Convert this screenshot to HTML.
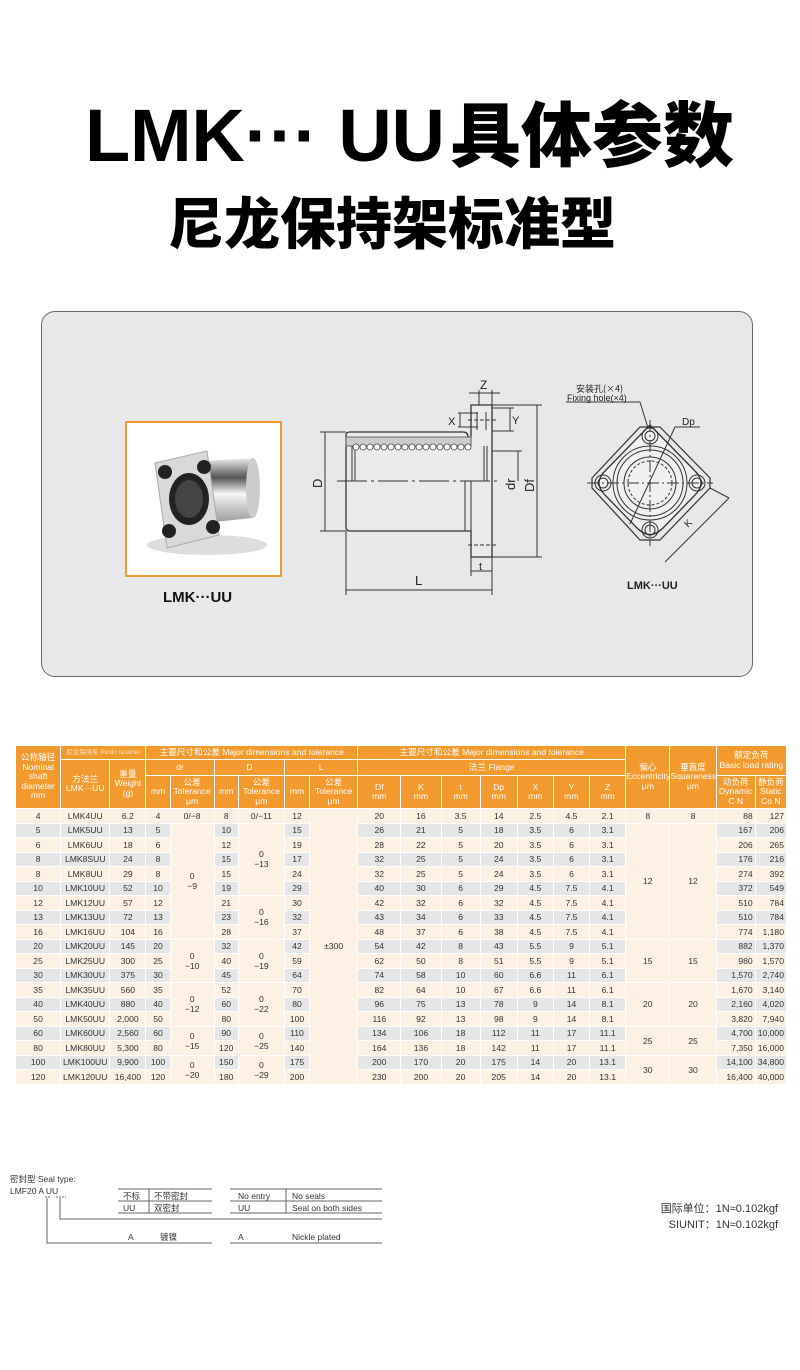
<!DOCTYPE html>
<html><head><meta charset="utf-8">
<style>
*{margin:0;padding:0;box-sizing:border-box}
body{width:800px;height:1370px;background:#fff;position:relative;overflow:hidden;font-family:"Liberation Sans","Noto Sans CJK SC",sans-serif;color:#222}
.abs{position:absolute;white-space:nowrap}
#t1c{left:450px;top:88px;font-size:71px;font-weight:900;color:#000;line-height:86px;font-family:"Noto Sans CJK SC",sans-serif}
#t2{left:168px;top:186px;font-size:56px;font-weight:900;color:#000;line-height:70px;font-family:"Noto Sans CJK SC",sans-serif}
#box{left:41px;top:311px;width:712px;height:366px;border:1.5px solid #666;border-radius:14px;background:#e7e8ea}
#photo{left:125px;top:421px;width:157px;height:156px;border:2px solid #f39a2e;background:#fff}
table{position:absolute;left:15px;top:745px;border-collapse:collapse;table-layout:fixed;width:772px;font-size:8.6px;color:#333}
td{border:1px solid #fff;text-align:center;vertical-align:middle;padding:0;line-height:10px;overflow:hidden;white-space:nowrap}
thead td{background:#f39a2e;color:#fff;line-height:9.5px}
tbody tr{height:14.5px}
tbody td{background:#fdf1e3}
tbody tr.g td{background:#e5e6e8}
tbody tr td.m{background:#fdf1e3}
td.r{text-align:right;padding-right:2px}
.sm{font-size:6.5px;color:#fde0bd}
</style></head><body>
<svg class="abs" style="left:0;top:80px" width="460" height="100" viewBox="0 80 460 100"><text x="85" y="161" font-family="Liberation Sans, sans-serif" font-weight="bold" font-size="74" textLength="360" lengthAdjust="spacing" fill="#000">LMK··· UU</text></svg>
<div class="abs" id="t1c">具体参数</div>
<div class="abs" id="t2">尼龙保持架标准型</div>
<div class="abs" id="box"></div>
<div class="abs" id="photo">
<svg width="153" height="152" viewBox="0 0 153 152">
<defs><linearGradient id="cy" x1="0" y1="0" x2="0" y2="1"><stop offset="0" stop-color="#eee"/><stop offset=".3" stop-color="#555"/><stop offset=".55" stop-color="#f5f5f5"/><stop offset="1" stop-color="#999"/></linearGradient></defs>
<ellipse cx="80" cy="122" rx="60" ry="10" fill="#ddd"/>
<path d="M78 38 L125 35 Q135 60 125 95 L78 100 Z" fill="url(#cy)"/>
<ellipse cx="126" cy="65" rx="7" ry="30" fill="#ccc"/>
<path d="M28 40 L80 28 L92 112 L40 125 Z" fill="#d9d9d9" stroke="#aaa"/>
<ellipse cx="62" cy="76" rx="20" ry="26" fill="#222"/>
<ellipse cx="62" cy="76" rx="14" ry="19" fill="#444"/>
<circle cx="38" cy="49" r="7" fill="#222"/><circle cx="77" cy="44" r="7" fill="#222"/>
<circle cx="42" cy="108" r="7" fill="#222"/><circle cx="86" cy="104" r="7" fill="#222"/>
</svg></div>
<div class="abs" style="left:163px;top:589px;font-size:15px;font-weight:bold;color:#111">LMK···UU</div>

<svg class="abs" style="left:0;top:0" width="800" height="700" viewBox="0 0 800 700" font-family="Liberation Sans, sans-serif">
<g stroke="#333" stroke-width="1" fill="none">
<path d="M346 435 Q346 432 350 432 L463 432 Q468 432 468 437 L471 437 L471 405 L492 405 L492 557 L471 557 L471 531 L350 531 Q346 531 346 527 Z" fill="#e9eaec" stroke-width="1.3"/>
<rect x="346" y="437" width="125" height="9" fill="#ccc" stroke="#666"/>
<line x1="352" y1="446" x2="352" y2="481"/>
<line x1="355" y1="446" x2="355" y2="481"/>
<line x1="484" y1="446" x2="484" y2="481"/><line x1="487" y1="446" x2="487" y2="481"/>
<line x1="465" y1="481" x2="465" y2="531"/><line x1="471" y1="481" x2="471" y2="557"/>
<line x1="337" y1="481" x2="497" y2="481" stroke-dasharray="30 4 3 4"/>
<line x1="477" y1="412" x2="477" y2="430"/><line x1="486" y1="412" x2="486" y2="430"/>
<line x1="468" y1="420" x2="496" y2="420" stroke-dasharray="4 2"/>
<line x1="468" y1="545" x2="496" y2="545" stroke-dasharray="4 2"/>
<line x1="320" y1="432" x2="346" y2="432"/><line x1="320" y1="531" x2="346" y2="531"/>
<line x1="325" y1="432" x2="325" y2="531"/>
<line x1="492" y1="451" x2="522" y2="451"/><line x1="518" y1="451" x2="518" y2="481"/>
<line x1="492" y1="405" x2="542" y2="405"/><line x1="492" y1="557" x2="542" y2="557"/>
<line x1="537" y1="405" x2="537" y2="557"/>
<line x1="346" y1="531" x2="346" y2="595"/><line x1="492" y1="557" x2="492" y2="595"/>
<line x1="346" y1="590" x2="492" y2="590"/>
<line x1="471" y1="557" x2="471" y2="576"/><line x1="471" y1="571" x2="492" y2="571"/>
<line x1="479" y1="390" x2="479" y2="405"/><line x1="492" y1="390" x2="492" y2="405"/>
<line x1="469" y1="393" x2="500" y2="393"/>
<line x1="458" y1="413" x2="478" y2="413"/><line x1="458" y1="427" x2="478" y2="427"/>
<line x1="460" y1="413" x2="460" y2="427"/>
<line x1="492" y1="408" x2="514" y2="408"/><line x1="492" y1="431" x2="514" y2="431"/>
<line x1="510" y1="408" x2="510" y2="431"/>
</g>
<g fill="#fff" stroke="#444" stroke-width=".8">
<circle cx="356" cy="447" r="3"/><circle cx="363" cy="447" r="3"/><circle cx="370" cy="447" r="3"/><circle cx="377" cy="447" r="3"/><circle cx="384" cy="447" r="3"/><circle cx="391" cy="447" r="3"/><circle cx="398" cy="447" r="3"/><circle cx="405" cy="447" r="3"/><circle cx="412" cy="447" r="3"/><circle cx="419" cy="447" r="3"/><circle cx="426" cy="447" r="3"/><circle cx="433" cy="447" r="3"/><circle cx="440" cy="447" r="3"/><circle cx="447" cy="447" r="3"/><circle cx="454" cy="447" r="3"/><circle cx="461" cy="447" r="3"/><circle cx="468" cy="447" r="3"/>
</g>
<g fill="#222" font-size="13">
<text transform="translate(322 488) rotate(-90)">D</text>
<text x="415" y="585">L</text>
<text x="479" y="570" font-size="11">t</text>
<text x="480" y="389" font-size="12">Z</text>
<text x="448" y="425" font-size="11">X</text>
<text x="512" y="424" font-size="11">Y</text>
<text transform="translate(515 490) rotate(-90)">dr</text>
<text transform="translate(534 492) rotate(-90)">Df</text>
</g>
<g stroke="#333" stroke-width="1" fill="none">
<path d="M650 425 L694 470 Q708 483 694 496 L663 528 Q650 541 637 528 L606 496 Q592 483 606 470 Z" fill="#eef0f2" stroke-width="1.3"/>
<path d="M640 427 L660 427 L710 478 L710 488 L660 540 L640 540 L592 488 L592 478 Z" stroke-width="1.2"/>
<circle cx="650" cy="483" r="37"/><circle cx="650" cy="483" r="33"/><circle cx="650" cy="483" r="26"/><circle cx="650" cy="483" r="22" stroke-dasharray="3 2"/>
<circle cx="650" cy="436" r="8"/><circle cx="650" cy="436" r="5"/>
<circle cx="603" cy="483" r="8"/><circle cx="603" cy="483" r="5"/>
<circle cx="697" cy="483" r="8"/><circle cx="697" cy="483" r="5"/>
<circle cx="650" cy="530" r="8"/><circle cx="650" cy="530" r="5"/>
<line x1="587" y1="483" x2="713" y2="483" stroke-dasharray="12 3 2 3"/>
<line x1="650" y1="420" x2="650" y2="546" stroke-dasharray="12 3 2 3"/>
<line x1="630" y1="524" x2="675" y2="427"/><line x1="675" y1="427" x2="700" y2="427"/>
<line x1="566" y1="402" x2="640" y2="402"/><line x1="640" y1="402" x2="648" y2="428"/>
<line x1="665" y1="562" x2="729" y2="498"/><line x1="710" y1="488" x2="729" y2="498"/>
</g>
<g fill="#222">
<text x="576" y="392" font-size="9" font-family="Noto Sans CJK SC, sans-serif">安装孔(×4)</text>
<text x="567" y="401" font-size="9">Fixing hole(×4)</text>
<text x="682" y="425" font-size="10">Dp</text>
<text transform="translate(688 528) rotate(-45)" font-size="10">K</text>
<text x="627" y="589" font-size="11" font-weight="bold">LMK···UU</text>
</g>
</svg>

<table>
<colgroup><col style="width:45px"><col style="width:49px"><col style="width:36px"><col style="width:24px"><col style="width:44px"><col style="width:24px"><col style="width:46px"><col style="width:25px"><col style="width:48px"><col style="width:43px"><col style="width:40px"><col style="width:39px"><col style="width:37px"><col style="width:36px"><col style="width:36px"><col style="width:36px"><col style="width:44px"><col style="width:46px"><col style="width:39px"><col style="width:31px"></colgroup>
<thead>
<tr style="height:14px"><td rowspan="3">公称轴径<br>Nominal<br>shaft<br>diameter<br>mm</td><td colspan="2" class="sm">尼龙保持架 Resin retainer</td><td colspan="6">主要尺寸和公差 Major dimensions and tolerance</td><td colspan="7">主要尺寸和公差 Major dimensions and tolerance</td><td rowspan="3">偏心<br>Eccentricity<br>μm</td><td rowspan="3">垂直度<br>Squareness<br>μm</td><td colspan="2" rowspan="2">额定负荷<br>Basic load rating</td></tr>
<tr style="height:16px"><td rowspan="2">方法兰<br>LMK···UU</td><td rowspan="2">重量<br>Weight<br>(g)</td><td colspan="2">dr</td><td colspan="2">D</td><td colspan="2">L</td><td colspan="7">法兰 Flange</td></tr>
<tr style="height:33px"><td>mm</td><td>公差<br>Tolerance<br>μm</td><td>mm</td><td>公差<br>Tolerance<br>μm</td><td>mm</td><td>公差<br>Tolerance<br>μm</td><td>Df<br>mm</td><td>K<br>mm</td><td>t<br>mm</td><td>Dp<br>mm</td><td>X<br>mm</td><td>Y<br>mm</td><td>Z<br>mm</td><td>动负荷<br>Dynamic<br>C N</td><td>静负荷<br>Static<br>Co N</td></tr>
</thead>
<tbody>
<tr><td>4</td><td>LMK4UU</td><td>6.2</td><td>4</td><td class="m">0/−8</td><td>8</td><td class="m">0/−11</td><td>12</td><td class="m" rowspan="19">±300</td><td>20</td><td>16</td><td>3.5</td><td>14</td><td>2.5</td><td>4.5</td><td>2.1</td><td class="m">8</td><td class="m">8</td><td class="r">88</td><td class="r">127</td></tr>
<tr class="g"><td>5</td><td>LMK5UU</td><td>13</td><td>5</td><td class="m" rowspan="8">0<br>−9</td><td>10</td><td class="m" rowspan="5">0<br>−13</td><td>15</td><td>26</td><td>21</td><td>5</td><td>18</td><td>3.5</td><td>6</td><td>3.1</td><td class="m" rowspan="8">12</td><td class="m" rowspan="8">12</td><td class="r">167</td><td class="r">206</td></tr>
<tr><td>6</td><td>LMK6UU</td><td>18</td><td>6</td><td>12</td><td>19</td><td>28</td><td>22</td><td>5</td><td>20</td><td>3.5</td><td>6</td><td>3.1</td><td class="r">206</td><td class="r">265</td></tr>
<tr class="g"><td>8</td><td>LMK8SUU</td><td>24</td><td>8</td><td>15</td><td>17</td><td>32</td><td>25</td><td>5</td><td>24</td><td>3.5</td><td>6</td><td>3.1</td><td class="r">176</td><td class="r">216</td></tr>
<tr><td>8</td><td>LMK8UU</td><td>29</td><td>8</td><td>15</td><td>24</td><td>32</td><td>25</td><td>5</td><td>24</td><td>3.5</td><td>6</td><td>3.1</td><td class="r">274</td><td class="r">392</td></tr>
<tr class="g"><td>10</td><td>LMK10UU</td><td>52</td><td>10</td><td>19</td><td>29</td><td>40</td><td>30</td><td>6</td><td>29</td><td>4.5</td><td>7.5</td><td>4.1</td><td class="r">372</td><td class="r">549</td></tr>
<tr><td>12</td><td>LMK12UU</td><td>57</td><td>12</td><td>21</td><td class="m" rowspan="3">0<br>−16</td><td>30</td><td>42</td><td>32</td><td>6</td><td>32</td><td>4.5</td><td>7.5</td><td>4.1</td><td class="r">510</td><td class="r">784</td></tr>
<tr class="g"><td>13</td><td>LMK13UU</td><td>72</td><td>13</td><td>23</td><td>32</td><td>43</td><td>34</td><td>6</td><td>33</td><td>4.5</td><td>7.5</td><td>4.1</td><td class="r">510</td><td class="r">784</td></tr>
<tr><td>16</td><td>LMK16UU</td><td>104</td><td>16</td><td>28</td><td>37</td><td>48</td><td>37</td><td>6</td><td>38</td><td>4.5</td><td>7.5</td><td>4.1</td><td class="r">774</td><td class="r">1,180</td></tr>
<tr class="g"><td>20</td><td>LMK20UU</td><td>145</td><td>20</td><td class="m" rowspan="3">0<br>−10</td><td>32</td><td class="m" rowspan="3">0<br>−19</td><td>42</td><td>54</td><td>42</td><td>8</td><td>43</td><td>5.5</td><td>9</td><td>5.1</td><td class="m" rowspan="3">15</td><td class="m" rowspan="3">15</td><td class="r">882</td><td class="r">1,370</td></tr>
<tr><td>25</td><td>LMK25UU</td><td>300</td><td>25</td><td>40</td><td>59</td><td>62</td><td>50</td><td>8</td><td>51</td><td>5.5</td><td>9</td><td>5.1</td><td class="r">980</td><td class="r">1,570</td></tr>
<tr class="g"><td>30</td><td>LMK30UU</td><td>375</td><td>30</td><td>45</td><td>64</td><td>74</td><td>58</td><td>10</td><td>60</td><td>6.6</td><td>11</td><td>6.1</td><td class="r">1,570</td><td class="r">2,740</td></tr>
<tr><td>35</td><td>LMK35UU</td><td>560</td><td>35</td><td class="m" rowspan="3">0<br>−12</td><td>52</td><td class="m" rowspan="3">0<br>−22</td><td>70</td><td>82</td><td>64</td><td>10</td><td>67</td><td>6.6</td><td>11</td><td>6.1</td><td class="m" rowspan="3">20</td><td class="m" rowspan="3">20</td><td class="r">1,670</td><td class="r">3,140</td></tr>
<tr class="g"><td>40</td><td>LMK40UU</td><td>880</td><td>40</td><td>60</td><td>80</td><td>96</td><td>75</td><td>13</td><td>78</td><td>9</td><td>14</td><td>8.1</td><td class="r">2,160</td><td class="r">4,020</td></tr>
<tr><td>50</td><td>LMK50UU</td><td>2,000</td><td>50</td><td>80</td><td>100</td><td>116</td><td>92</td><td>13</td><td>98</td><td>9</td><td>14</td><td>8.1</td><td class="r">3,820</td><td class="r">7,940</td></tr>
<tr class="g"><td>60</td><td>LMK60UU</td><td>2,560</td><td>60</td><td class="m" rowspan="2">0<br>−15</td><td>90</td><td class="m" rowspan="2">0<br>−25</td><td>110</td><td>134</td><td>106</td><td>18</td><td>112</td><td>11</td><td>17</td><td>11.1</td><td class="m" rowspan="2">25</td><td class="m" rowspan="2">25</td><td class="r">4,700</td><td class="r">10,000</td></tr>
<tr><td>80</td><td>LMK80UU</td><td>5,300</td><td>80</td><td>120</td><td>140</td><td>164</td><td>136</td><td>18</td><td>142</td><td>11</td><td>17</td><td>11.1</td><td class="r">7,350</td><td class="r">16,000</td></tr>
<tr class="g"><td>100</td><td>LMK100UU</td><td>9,900</td><td>100</td><td class="m" rowspan="2">0<br>−20</td><td>150</td><td class="m" rowspan="2">0<br>−29</td><td>175</td><td>200</td><td>170</td><td>20</td><td>175</td><td>14</td><td>20</td><td>13.1</td><td class="m" rowspan="2">30</td><td class="m" rowspan="2">30</td><td class="r">14,100</td><td class="r">34,800</td></tr>
<tr><td>120</td><td>LMK120UU</td><td>16,400</td><td>120</td><td>180</td><td>200</td><td>230</td><td>200</td><td>20</td><td>205</td><td>14</td><td>20</td><td>13.1</td><td class="r">16,400</td><td class="r">40,000</td></tr>
</tbody></table>

<svg class="abs" style="left:0;top:1170px" width="800" height="90" viewBox="0 1170 800 90" font-family="Liberation Sans, Noto Sans CJK SC, sans-serif" font-size="8.5" fill="#333">
<text x="10" y="1182">密封型 Seal type:</text>
<text x="10" y="1194">LMF20 A UU</text>
<g stroke="#666" stroke-width="1" fill="none">
<line x1="118" y1="1189" x2="212" y2="1189"/><line x1="118" y1="1201" x2="212" y2="1201"/><line x1="118" y1="1213" x2="212" y2="1213"/>
<line x1="230" y1="1189" x2="382" y2="1189"/><line x1="230" y1="1201" x2="382" y2="1201"/><line x1="230" y1="1213" x2="382" y2="1213"/>
<line x1="149" y1="1189" x2="149" y2="1213"/><line x1="286" y1="1189" x2="286" y2="1213"/>
<line x1="45" y1="1197" x2="51" y2="1197" stroke-dasharray="2 1"/><line x1="56" y1="1197" x2="66" y2="1197" stroke-dasharray="2 1"/>
<polyline points="60,1198 60,1219 382,1219"/>
<polyline points="47,1198 47,1243 212,1243"/>
<line x1="230" y1="1243" x2="382" y2="1243"/>
</g>
<text x="123" y="1199">不标</text><text x="154" y="1199">不带密封</text>
<text x="123" y="1211">UU</text><text x="154" y="1211">双密封</text>
<text x="238" y="1199">No entry</text><text x="292" y="1199">No seals</text>
<text x="238" y="1211">UU</text><text x="292" y="1211">Seal on both sides</text>
<text x="128" y="1240">A</text><text x="160" y="1240">镀镍</text>
<text x="238" y="1240">A</text><text x="292" y="1240">Nickle plated</text>
<text x="778" y="1212" font-size="11" text-anchor="end">国际单位：1N≈0.102kgf</text>
<text x="778" y="1228" font-size="11" text-anchor="end">SIUNIT：1N≈0.102kgf</text>
</svg>
</body></html>
